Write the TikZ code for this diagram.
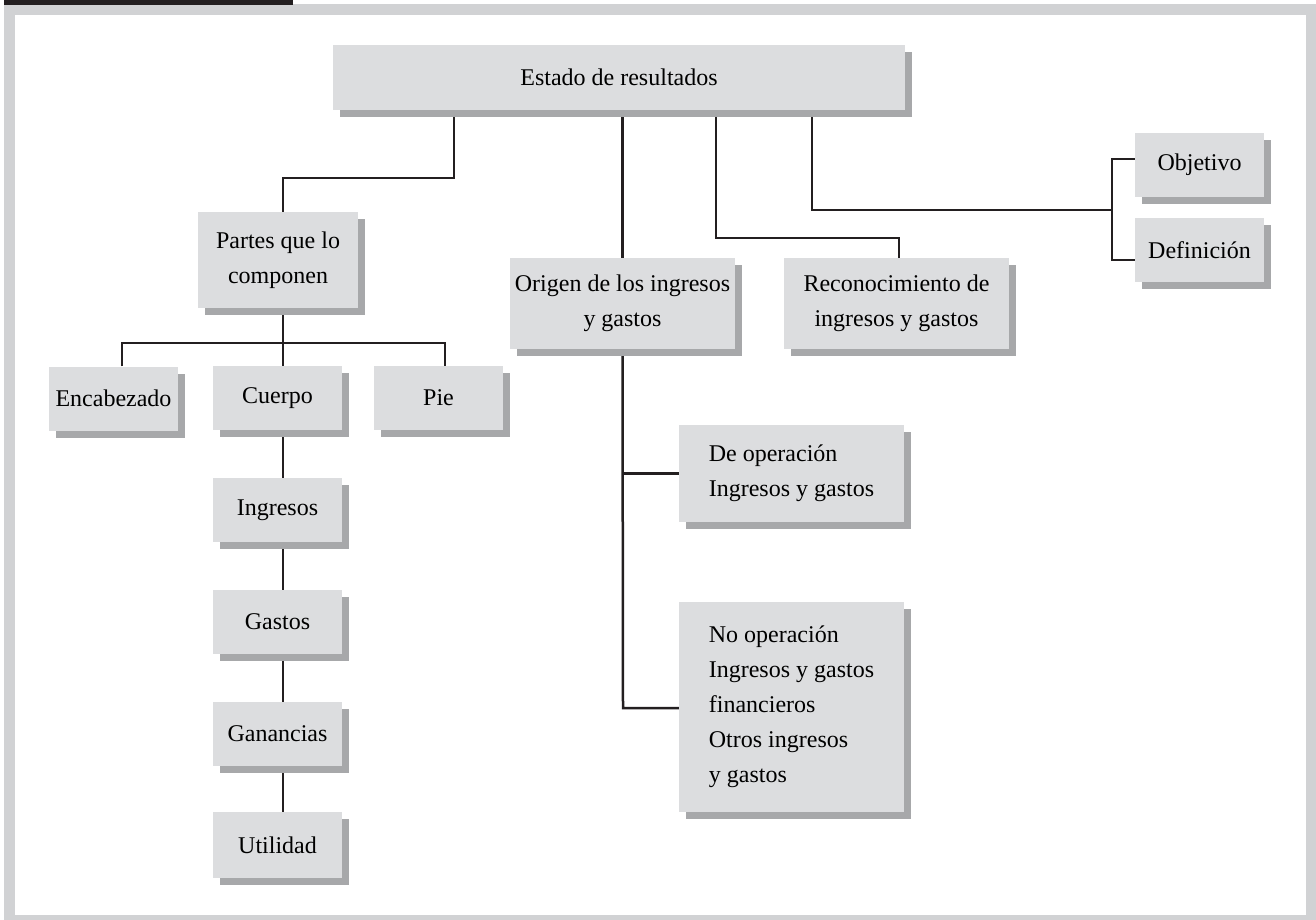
\documentclass[tikz,border=0pt]{standalone}
\usepackage{fontspec}
\setmainfont{Liberation Serif}
\usetikzlibrary{shadows,backgrounds}
\definecolor{boxgray}{HTML}{DCDDDF}
\definecolor{shadowgray}{HTML}{A7A8AA}
\definecolor{framegray}{HTML}{D1D2D4}
\definecolor{barblack}{HTML}{231F20}
\tikzset{
    chartbox/.style={fill=boxgray,inner sep=0pt,align=center,
        minimum width=129pt,minimum height=64pt,
        drop shadow={shadow xshift=7pt,shadow yshift=-7pt,
            fill=shadowgray,opacity=1}},
    widebox/.style={chartbox,minimum width=225pt,minimum height=91pt},
    link/.style={line width=2.5pt,draw=barblack}
}

\begin{document}
\begin{tikzpicture}[x=1pt,y=-1pt,font=\fontsize{24}{35}\selectfont]
    \useasboundingbox (0,0) rectangle (1316,920);

    \node[chartbox,minimum width=572pt,minimum height=65pt] (estado)
        at (619,77.5) {Estado de resultados};

    \node[chartbox,minimum width=160pt,minimum height=96pt] (partes)
        at (278,260) {Partes que lo\\componen};
    \node[widebox] (origen) at (622.5,303.5) {Origen de los ingresos\\y gastos};
    \node[widebox] (recon) at (896.5,303.5) {Reconocimiento de\\ingresos y gastos};
    \node[chartbox] (objetivo) at (1199.5,165) {Objetivo};
    \node[chartbox] (definicion) at (1199.5,250) {Definición};

    \node[chartbox] (encab) at (113.5,398.5) {Encabezado};
    \node[chartbox] (cuerpo) at (277.5,398) {Cuerpo};
    \node[chartbox] (pie) at (438.5,398) {Pie};
    \node[chartbox] (ingresos) at (277.5,510) {Ingresos};
    \node[chartbox] (gastos) at (277.5,622) {Gastos};
    \node[chartbox] (ganancias) at (277.5,734) {Ganancias};
    \node[chartbox,minimum height=66pt] (utilidad) at (277.5,845) {Utilidad};

    \node[widebox,minimum height=97pt,align=left] (deop)
        at (791.5,473.5) {De operación\\Ingresos y gastos};
    \node[widebox,minimum height=210pt,align=left] (noop)
        at (791.5,707) {No operación\\Ingresos y gastos\\financieros\\Otros ingresos\\y gastos};

    \coordinate (e1) at (454,178);
    \coordinate (e3) at (716,238);
    \coordinate (e4) at (812,210);
    \coordinate (b1) at (1112,210);
    \coordinate (b2) at (1112,159);
    \coordinate (b3) at (1112,260);
    \coordinate (p1) at (283,343);
    \coordinate (o1) at (623,708);

    \begin{scope}[on background layer]
        \fill[framegray] (4,4) rectangle (1316,920);
        \fill[white] (15,15) rectangle (1306,915);
        \fill[barblack] (4,0) rectangle (293,5);

        \draw[link] (e1 |- estado.south) -- (e1) -| ([xshift=5pt]partes.north);
        \draw[link] (origen.north |- estado.south) -- (origen.north);
        \draw[link] (e3 |- estado.south) -- (e3) -| ([xshift=2.5pt]recon.north);
        \draw[link] (e4 |- estado.south) -- (e4) -- (b1);
        \draw[link] (b2 -| objetivo.west) -- (b2) -- (b3) -- (b3 -| definicion.west);

        \draw[link] (p1 |- partes.south) -- (p1 |- cuerpo.north);
        \draw[link] ([xshift=8.5pt]encab.north) |- (p1) -| ([xshift=6.5pt]pie.north);
        \foreach \a/\b in {cuerpo/ingresos,ingresos/gastos,gastos/ganancias,ganancias/utilidad}
            \draw[link] (p1 |- \a.south) -- (p1 |- \b.north);

        \draw[link] (origen.south) -- (o1) -- (o1 -| noop.west);
        \draw[link] (o1 |- deop.west) -- (deop.west);
    \end{scope}
\end{tikzpicture}
\end{document}
